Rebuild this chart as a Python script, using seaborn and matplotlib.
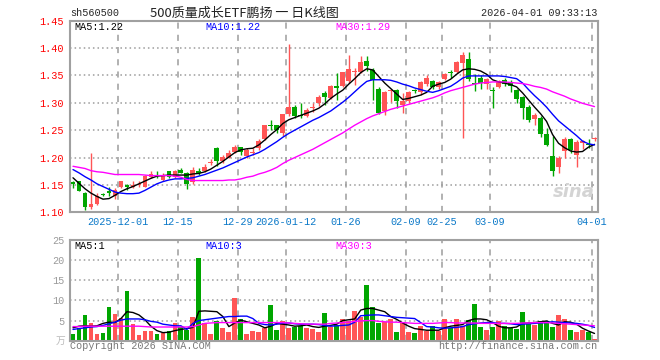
import numpy as np
import pandas as pd
import matplotlib
matplotlib.use("Agg")
import matplotlib.pyplot as plt
import seaborn as sns

sns.set_style("white")
plt.rcParams['font.family'] = ['Liberation Mono', 'DejaVu Sans Mono']
CJK = ['Noto Sans CJK SC', 'DejaVu Sans']

# ---- data --------------------------------------------------------------
holidays = ["2026-01-01", "2026-01-02", "2026-02-16", "2026-02-17", "2026-02-18",
            "2026-02-19", "2026-02-20", "2026-02-23"]
tick_dates = ["2025-12-01", "2025-12-15", "2025-12-29", "2026-01-12", "2026-01-26",
              "2026-02-09", "2026-02-25", "2026-03-09", "2026-04-01"]
tick_labels = ["2025-12-01", "12-15", "12-29", "2026-01-12", "01-26",
               "02-09", "02-25", "03-09", "04-01"]

open_ = [1.156, 1.157, 1.136, 1.109, 1.115, 1.132, 1.139, 1.129, 1.146, 1.150,
         1.147, 1.149, 1.147, 1.164, 1.168, 1.159, 1.175, 1.164, 1.178, 1.172,
         1.156, 1.175, 1.176, 1.190, 1.218, 1.193, 1.200, 1.210, 1.219, 1.202,
         1.209, 1.217, 1.234, 1.259, 1.259, 1.245, 1.280, 1.292, 1.278, 1.275,
         1.290, 1.299, 1.318, 1.308, 1.331, 1.331, 1.339, 1.356, 1.357, 1.376,
         1.360, 1.326, 1.285, 1.322, 1.323, 1.296, 1.303, 1.323, 1.320, 1.334,
         1.339, 1.329, 1.343, 1.357, 1.356, 1.373, 1.380, 1.336, 1.346, 1.334,
         1.323, 1.329, 1.342, 1.337, 1.323, 1.310, 1.293, 1.270, 1.273, 1.243,
         1.202, 1.183, 1.212, 1.234, 1.205, 1.226, 1.224, 1.234]
close = [1.151, 1.139, 1.110, 1.115, 1.130, 1.131, 1.135, 1.141, 1.157, 1.147,
         1.150, 1.152, 1.167, 1.170, 1.166, 1.168, 1.164, 1.176, 1.172, 1.152,
         1.177, 1.172, 1.183, 1.192, 1.193, 1.201, 1.209, 1.220, 1.211, 1.214,
         1.211, 1.231, 1.259, 1.257, 1.251, 1.279, 1.292, 1.275, 1.276, 1.286,
         1.292, 1.311, 1.311, 1.331, 1.327, 1.356, 1.361, 1.358, 1.374, 1.368,
         1.342, 1.282, 1.320, 1.324, 1.304, 1.304, 1.320, 1.321, 1.337, 1.345,
         1.328, 1.337, 1.352, 1.355, 1.374, 1.387, 1.343, 1.335, 1.336, 1.344,
         1.321, 1.340, 1.334, 1.331, 1.306, 1.290, 1.269, 1.278, 1.243, 1.223,
         1.176, 1.200, 1.234, 1.213, 1.229, 1.230, 1.222, 1.235]
high = [1.157, 1.158, 1.137, 1.209, 1.136, 1.136, 1.147, 1.144, 1.157, 1.152,
        1.157, 1.157, 1.168, 1.175, 1.175, 1.172, 1.176, 1.177, 1.180, 1.173,
        1.183, 1.181, 1.188, 1.197, 1.219, 1.205, 1.213, 1.222, 1.220, 1.218,
        1.217, 1.234, 1.260, 1.269, 1.260, 1.280, 1.407, 1.296, 1.299, 1.290,
        1.300, 1.314, 1.322, 1.332, 1.354, 1.357, 1.387, 1.363, 1.386, 1.385,
        1.363, 1.328, 1.321, 1.326, 1.325, 1.317, 1.322, 1.326, 1.339, 1.351,
        1.342, 1.340, 1.354, 1.360, 1.376, 1.392, 1.392, 1.353, 1.351, 1.345,
        1.328, 1.342, 1.346, 1.342, 1.326, 1.313, 1.295, 1.281, 1.275, 1.253,
        1.240, 1.203, 1.238, 1.236, 1.232, 1.232, 1.233, 1.238]
low = [1.144, 1.138, 1.105, 1.106, 1.114, 1.129, 1.129, 1.124, 1.145, 1.140,
       1.144, 1.146, 1.146, 1.162, 1.162, 1.157, 1.163, 1.162, 1.171, 1.143,
       1.152, 1.168, 1.174, 1.187, 1.184, 1.190, 1.199, 1.208, 1.205, 1.200,
       1.205, 1.214, 1.232, 1.250, 1.244, 1.240, 1.275, 1.272, 1.272, 1.274,
       1.284, 1.294, 1.296, 1.306, 1.305, 1.329, 1.336, 1.332, 1.354, 1.358,
       1.305, 1.280, 1.277, 1.302, 1.290, 1.281, 1.300, 1.317, 1.315, 1.330,
       1.326, 1.326, 1.341, 1.345, 1.354, 1.236, 1.340, 1.322, 1.326, 1.325,
       1.291, 1.327, 1.331, 1.320, 1.300, 1.270, 1.265, 1.259, 1.238, 1.221,
       1.167, 1.171, 1.200, 1.209, 1.182, 1.215, 1.217, 1.230]

ma5 = [1.163, 1.153, 1.143, 1.135, 1.129, 1.124, 1.125, 1.131, 1.138, 1.143,
       1.147, 1.152, 1.157, 1.162, 1.166, 1.167, 1.168, 1.168, 1.168, 1.168,
       1.170, 1.171, 1.174, 1.179, 1.186, 1.193, 1.201, 1.209, 1.214, 1.216,
       1.217, 1.223, 1.232, 1.242, 1.251, 1.262, 1.269, 1.273, 1.277, 1.281,
       1.285, 1.290, 1.298, 1.308, 1.316, 1.323, 1.334, 1.344, 1.355, 1.362,
       1.360, 1.348, 1.336, 1.326, 1.316, 1.306, 1.308, 1.311, 1.314, 1.319,
       1.330, 1.334, 1.337, 1.343, 1.352, 1.360, 1.362, 1.361, 1.358, 1.352,
       1.342, 1.338, 1.336, 1.333, 1.329, 1.318, 1.305, 1.292, 1.280, 1.266,
       1.242, 1.226, 1.218, 1.212, 1.210, 1.211, 1.219, 1.224]
ma10 = [1.178, 1.172, 1.165, 1.159, 1.152, 1.147, 1.142, 1.137, 1.135, 1.134,
        1.134, 1.135, 1.140, 1.146, 1.152, 1.156, 1.159, 1.161, 1.161, 1.162,
        1.163, 1.166, 1.169, 1.173, 1.177, 1.181, 1.186, 1.191, 1.196, 1.201,
        1.205, 1.209, 1.215, 1.222, 1.229, 1.237, 1.244, 1.250, 1.256, 1.262,
        1.268, 1.273, 1.279, 1.285, 1.293, 1.301, 1.310, 1.320, 1.330, 1.339,
        1.342, 1.342, 1.342, 1.341, 1.338, 1.334, 1.331, 1.327, 1.324, 1.321,
        1.319, 1.322, 1.326, 1.330, 1.337, 1.345, 1.349, 1.349, 1.349, 1.349,
        1.349, 1.349, 1.348, 1.346, 1.344, 1.336, 1.324, 1.313, 1.303, 1.292,
        1.279, 1.267, 1.258, 1.249, 1.240, 1.230, 1.225, 1.223]
ma30 = [1.184, 1.182, 1.180, 1.176, 1.174, 1.173, 1.171, 1.169, 1.169, 1.169,
        1.169, 1.169, 1.168, 1.167, 1.167, 1.167, 1.167, 1.166, 1.164, 1.160,
        1.158, 1.158, 1.158, 1.158, 1.158, 1.158, 1.159, 1.159, 1.161, 1.164,
        1.166, 1.170, 1.173, 1.177, 1.182, 1.189, 1.195, 1.200, 1.205, 1.210,
        1.215, 1.221, 1.227, 1.233, 1.239, 1.245, 1.252, 1.259, 1.265, 1.271,
        1.276, 1.280, 1.284, 1.288, 1.291, 1.294, 1.297, 1.300, 1.303, 1.306,
        1.309, 1.313, 1.318, 1.322, 1.325, 1.328, 1.331, 1.334, 1.336, 1.337,
        1.338, 1.338, 1.338, 1.337, 1.336, 1.335, 1.333, 1.330, 1.328, 1.325,
        1.320, 1.316, 1.312, 1.307, 1.303, 1.299, 1.296, 1.293]

volume = [1.65, 3.2, 6.4, 4.5, 1.65, 2.0, 8.3, 6.6, 5.7, 12.3,
          4.1, 1.4, 2.4, 2.4, 1.65, 1.8, 2.5, 4.5, 3.3, 2.6,
          5.9, 20.5, 4.3, 1.65, 5.0, 3.2, 2.2, 10.7, 5.5, 1.65,
          2.4, 2.2, 3.2, 8.8, 2.6, 5.0, 3.2, 3.4, 3.6, 3.1,
          2.9, 2.2, 6.9, 3.5, 3.9, 5.5, 4.9, 7.4, 5.8, 13.8,
          8.3, 4.5, 4.7, 5.4, 2.1, 4.3, 2.2, 1.9, 3.6, 2.4,
          3.6, 2.4, 5.4, 3.1, 5.4, 3.6, 5.1, 9.1, 3.4, 2.6,
          3.4, 4.9, 3.6, 3.2, 2.9, 7.1, 4.3, 4.0, 4.9, 5.0,
          3.4, 6.4, 5.4, 2.6, 2.2, 2.6, 2.2, 0.4]
vma5 = [3.2, 3.6, 3.7, 3.6, 3.7, 4.3, 4.6, 4.5, 5.5, 7.2,
        7.0, 6.4, 5.2, 3.6, 2.5, 2.0, 2.1, 2.5, 2.8, 3.0,
        3.3, 7.3, 7.4, 7.3, 7.2, 6.0, 3.5, 4.4, 5.1, 4.7,
        4.3, 3.9, 3.2, 3.6, 4.3, 4.1, 3.9, 3.6, 3.7, 3.9,
        3.5, 3.3, 3.6, 3.8, 4.1, 5.0, 5.2, 5.4, 7.6, 8.0,
        8.0, 7.6, 7.2, 6.0, 5.3, 4.4, 3.6, 3.0, 2.8, 2.6,
        2.6, 2.6, 3.2, 3.6, 3.8, 4.0, 5.0, 5.4, 5.4, 5.2,
        4.5, 3.6, 3.2, 3.2, 3.4, 4.3, 4.4, 4.5, 4.7, 4.9,
        4.3, 3.9, 4.7, 4.6, 4.1, 3.1, 2.4, 1.8]
vma10 = [2.8, 3.0, 3.2, 3.4, 3.5, 3.8, 4.2, 4.6, 5.1, 5.4,
         5.4, 5.4, 5.2, 4.8, 4.6, 4.1, 3.9, 3.7, 3.7, 2.8,
         4.3, 5.0, 5.2, 5.4, 5.6, 5.8, 6.0, 6.0, 6.1, 6.1,
         5.5, 4.3, 4.0, 3.9, 4.1, 4.4, 4.4, 4.2, 4.1, 4.1,
         4.1, 4.0, 3.8, 3.6, 3.7, 3.8, 3.9, 4.6, 6.2, 6.3,
         6.4, 6.4, 6.2, 6.0, 5.8, 5.7, 5.6, 5.5, 4.5, 3.5,
         3.4, 3.2, 3.1, 3.2, 3.3, 3.5, 4.0, 4.2, 4.4, 4.5,
         4.5, 4.3, 4.3, 4.2, 4.0, 4.1, 4.2, 4.3, 4.4, 4.5,
         4.7, 4.6, 4.5, 4.4, 4.3, 4.1, 3.8, 3.3]
vma30 = [3.5, 3.5, 3.6, 3.6, 3.6, 3.6, 3.6, 3.6, 3.6, 3.6,
         3.6, 3.6, 3.5, 3.4, 3.4, 3.4, 3.4, 3.4, 3.4, 3.4,
         3.5, 3.9, 4.3, 4.4, 4.5, 4.5, 4.5, 4.5, 4.5, 4.5,
         4.5, 4.5, 4.5, 4.5, 4.5, 4.5, 4.4, 4.3, 4.2, 4.1,
         4.1, 4.1, 4.1, 4.3, 4.4, 4.5, 4.6, 4.8, 4.9, 5.0,
         5.0, 4.8, 4.7, 4.6, 4.6, 4.5, 4.4, 4.3, 4.3, 4.3,
         4.3, 4.4, 4.5, 4.5, 4.4, 4.4, 4.4, 4.4, 4.3, 4.3,
         4.3, 4.3, 4.3, 4.3, 4.3, 4.4, 4.4, 4.5, 4.5, 4.5,
         4.4, 4.3, 4.2, 4.1, 4.0, 3.9, 3.8, 3.7]

# ---- frame ----------------------------------------------------------------
days = pd.bdate_range("2025-11-19", "2026-04-01")
days = days[~days.isin(pd.to_datetime(holidays))]
df = pd.DataFrame({"date": days, "open": open_, "close": close, "high": high,
                   "low": low, "vol": volume, "ma5": ma5, "ma10": ma10, "ma30": ma30,
                   "vma5": vma5, "vma10": vma10, "vma30": vma30})
df["i"] = np.arange(len(df))
RED, GREEN = "#ff5555", "#00a600"
df["color"] = np.where(df["close"] >= df["open"], RED, GREEN)
tick_pos = [df.index[df["date"] == pd.Timestamp(d)][0] - 0.5 for d in tick_dates]

W, H = 660, 360
fig = plt.figure(figsize=(W / 100, H / 100), dpi=100)


def px(x, y):
    return x / W, 1 - y / H


GRID = "#9c9c9c"
FRAME = "#a0a0a0"
ax = fig.add_axes([70 / W, 1 - 212.3 / H, 527.5 / W, 191.7 / H])
axv = fig.add_axes([70 / W, 1 - 340.7 / H, 527.5 / W, 100.7 / H])

for a in (ax, axv):
    a.set_xlim(-0.5, len(df) - 0.5)
    for s in a.spines.values():
        s.set_color(FRAME)
        s.set_linewidth(1.5)
    for p in tick_pos:
        a.axvline(p, color=GRID, lw=1.1, ls=(0, (4, 4)), zorder=0)

# ---- price panel ------------------------------------------------------------
ax.set_ylim(1.10, 1.45)
yt = np.round(np.arange(1.10, 1.451, 0.05), 2)
ax.set_yticks(yt, [f"{v:.2f}" for v in yt])
for v in yt[1:-1]:
    ax.axhline(v, color=GRID, lw=1.1, ls=(0, (1, 2)), zorder=0)
ax.tick_params(axis="y", length=0, pad=4.5, labelsize=7.3, labelcolor="#ff0000")
ax.set_xticks(tick_pos, tick_labels)
ax.tick_params(axis="x", length=0, pad=3.5, labelsize=7.3, labelcolor="#0a78c8")

ax.vlines(df["i"], df["low"], df["high"], colors=df["color"], lw=1, zorder=2)
body = np.maximum((df["close"] - df["open"]).abs(), 0.0018)
ax.bar(df["i"], body, bottom=np.minimum(df["open"], df["close"]), width=0.8,
       color=df["color"], linewidth=0, zorder=3)
for col, c in (("ma5", "black"), ("ma10", "#0000ff"), ("ma30", "#ff00ff")):
    sns.lineplot(data=df, x="i", y=col, color=c, lw=1, ax=ax, zorder=4, legend=False)
ax.set_xlabel("")
ax.set_ylabel("")

ax.text(0.995, 0.06, "sina", transform=ax.transAxes, ha="right", va="bottom",
        fontsize=13, fontweight="bold", style="italic", color="#d4d4d4",
        family="DejaVu Sans", zorder=1)

# ---- volume panel -----------------------------------------------------------
axv.set_ylim(0, 25)
axv.set_yticks([5, 10, 15, 20, 25], ["5", "10", "15", "20", "25"])
for v in [5, 10, 15, 20]:
    axv.axhline(v, color=GRID, lw=1.1, ls=(0, (1, 2)), zorder=0)
axv.tick_params(axis="y", length=0, pad=4, labelsize=7.3, labelcolor="#9a9a9a")
axv.set_xticks([])
axv.bar(df["i"], df["vol"], width=0.8, color=df["color"], linewidth=0, zorder=2)
for col, c in (("vma5", "black"), ("vma10", "#0000ff"), ("vma30", "#ff00ff")):
    sns.lineplot(data=df, x="i", y=col, color=c, lw=1, ax=axv, zorder=4, legend=False)
axv.set_xlabel("")
axv.set_ylabel("")

# ---- text -------------------------------------------------------------------
fs = 7.3
fig.text(*px(70, 13), "sh560500", ha="left", va="center", fontsize=fs)
fig.text(*px(150, 13), "500质量成长ETF鹏扬 一 日K线图", ha="left", va="center",
         fontsize=9.4, family=CJK, color="#222222")
fig.text(*px(597, 13), "2026-04-01 09:33:13", ha="right", va="center", fontsize=fs)

fig.text(*px(74, 27), "MA5:1.22", ha="left", va="center", fontsize=fs, color="black")
fig.text(*px(205, 27), "MA10:1.22", ha="left", va="center", fontsize=fs, color="#0000ff")
fig.text(*px(335, 27), "MA30:1.29", ha="left", va="center", fontsize=fs, color="#ff00ff")

fig.text(*px(74, 246), "MA5:1", ha="left", va="center", fontsize=fs, color="black")
fig.text(*px(205, 246), "MA10:3", ha="left", va="center", fontsize=fs, color="#0000ff")
fig.text(*px(335, 246), "MA30:3", ha="left", va="center", fontsize=fs, color="#ff00ff")

fig.text(*px(65, 341), "万", ha="right", va="center", fontsize=7, family=CJK, color="#bbbbbb")
fig.text(*px(70, 346), "Copyright 2026 SINA.COM", ha="left", va="center",
         fontsize=fs, color="#777777")
fig.text(*px(597, 346), "http://finance.sina.com.cn", ha="right", va="center",
         fontsize=fs, color="#777777")

fig.savefig("out.png", dpi=100, facecolor="white")
